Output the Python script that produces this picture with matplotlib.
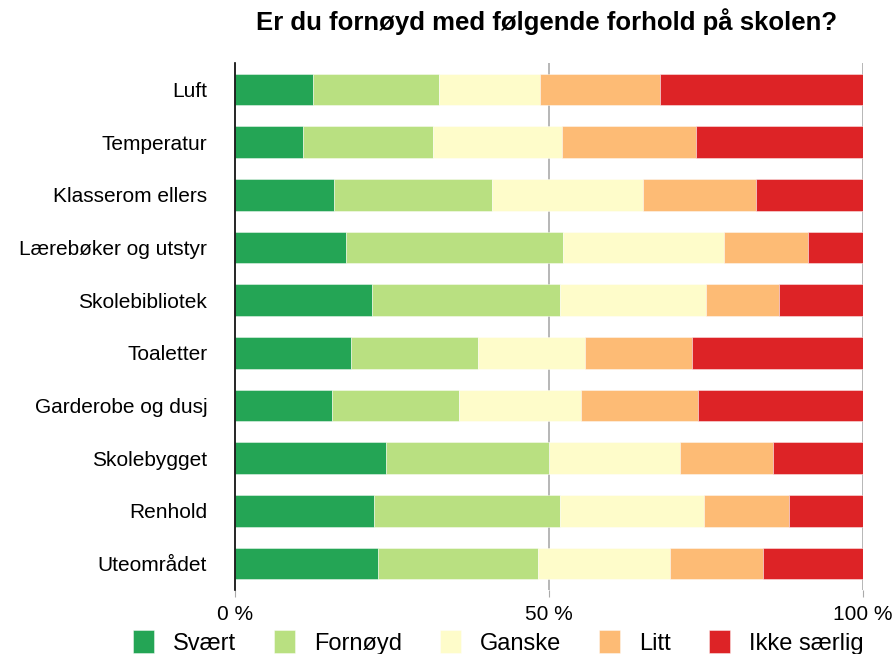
import matplotlib
matplotlib.use("Agg")
import matplotlib.pyplot as plt
import numpy as np

plt.rcParams['font.family'] = ['Liberation Sans', 'DejaVu Sans']

categories = ["Luft", "Temperatur", "Klasserom ellers", "Lærebøker og utstyr",
              "Skolebibliotek", "Toaletter", "Garderobe og dusj", "Skolebygget",
              "Renhold", "Uteområdet"]
series_names = ["Svært", "Fornøyd", "Ganske", "Litt", "Ikke særlig"]
svaert  = [12.4, 10.8, 15.8, 17.7, 21.8, 18.4, 15.5, 24.0, 22.1, 22.7]
fornoyd = [20.1, 20.7, 25.2, 34.6, 29.9, 20.3, 20.1, 26.0, 29.6, 25.5]
ganske  = [16.0, 20.5, 23.9, 25.5, 23.3, 17.1, 19.5, 20.9, 23.0, 21.1]
litt    = [19.2, 21.4, 18.0, 13.5, 11.6, 16.9, 18.6, 14.8, 13.5, 14.8]
ikke    = [32.3, 26.6, 17.1, 8.7, 13.4, 27.3, 26.3, 14.3, 11.8, 15.9]
colors = ["#24a555", "#b9e081", "#fefcca", "#fdbb75", "#dd2326"]
xticks = [0, 50, 100]
xticklabels = ["0 %", "50 %", "100 %"]
title = "Er du fornøyd med følgende forhold på skolen?"

fig = plt.figure(figsize=(8.93, 6.54), dpi=100)
ax = fig.add_axes([235/893, 1-590/654, 628/893, (590-63)/654])

y = np.arange(len(categories))
left = np.zeros(len(categories))
handles = []
for vals, name, c in zip([svaert, fornoyd, ganske, litt, ikke], series_names, colors):
    vals = np.array(vals)
    h = ax.barh(y, vals, left=left, height=0.6, color=c, edgecolor=(1, 1, 1, 0.5),
                linewidth=0.6, label=name, zorder=3)
    handles.append(h)
    left += vals

ax.set_xlim(0, 100)
ax.set_ylim(9.5, -0.5)
ax.set_yticks(y)
ax.set_yticklabels(categories, fontsize=15)
ax.tick_params(axis='y', length=0, pad=20)
ax.set_xticks(xticks)
ax.set_xticklabels(xticklabels, fontsize=15)
ax.tick_params(axis='x', length=5, color='#aaaaaa', pad=6)
for s in ['top', 'right', 'bottom']:
    ax.spines[s].set_visible(False)
ax.spines['left'].set_color('black')
ax.spines['left'].set_linewidth(1.2)
ax.spines['left'].set_zorder(4)
for xv in [50, 100]:
    ax.axvline(xv, color='#aaaaaa', linewidth=1.2, zorder=1)

fig.text(547/893, 1-22/654, title, ha='center', va='center', fontsize=18.5, fontweight='bold')

leg = fig.legend(handles=handles, labels=series_names, loc='lower center',
                 bbox_to_anchor=(498/893, -0.03), ncol=5, frameon=False, fontsize=17,
                 handlelength=0.9, handleheight=1.1, columnspacing=1.6, handletextpad=0.8,
                 borderpad=0.3)

fig.savefig("out.png", dpi=100)
